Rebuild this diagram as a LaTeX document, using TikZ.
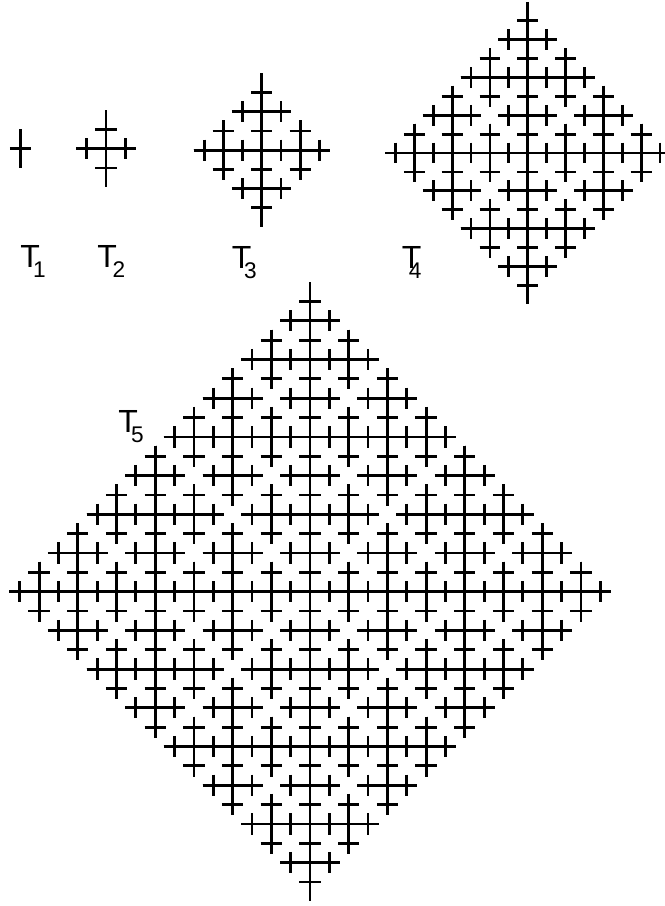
\documentclass[tikz,border=0pt]{standalone}
\usepackage{fontspec}
\setmainfont{Liberation Sans}
\newcommand\crossrec[3]{%
  \pgfmathsetmacro\crarm{2^(#3-1)-0.45}%
  \draw[fractal] (#1-\crarm,#2) -- (#1+\crarm,#2) (#1,#2-\crarm) -- (#1,#2+\crarm);%
  \ifnum#3>1\relax
    \pgfmathtruncatemacro\crhalf{2^(#3-2)}%
    \pgfmathtruncatemacro\crlev{#3-1}%
    \foreach \dx/\dy in {1/0,-1/0,0/1,0/-1}{%
      \pgfmathtruncatemacro\crnx{#1+\dx*\crhalf}%
      \pgfmathtruncatemacro\crny{#2+\dy*\crhalf}%
      \edef\crtmp{\noexpand\crossrec{\crnx}{\crny}{\crlev}}\crtmp
    }%
  \fi
}
\newcommand\treeT[4]{% cx, cy (px), unit (px), level
  \begin{scope}[shift={(#1,#2)},x=#3*0.75pt,y=-#3*0.75pt]
    \crossrec{0}{0}{#4}
    \pgfmathsetmacro\crtop{2^(#4-1)}
    \draw[fractal] (0,-\crtop) -- (0,\crtop);
  \end{scope}
}
\newcommand\tlabel[2]{{\fontsize{24}{24}\selectfont T\kern#2\raisebox{-7.5pt}{\fontsize{17}{17}\selectfont #1}}}
\begin{document}
\begin{tikzpicture}[x=0.75pt,y=-0.75pt,
  fractal/.style={line width=2.1pt,black},
  lab/.style={inner sep=0pt,anchor=north west}]
\useasboundingbox (0,0) rectangle (664,906);
\treeT{20.7}{148.8}{19.5}{1}
\treeT{106}{148.8}{19.25}{2}
\treeT{261.7}{150.2}{19.2}{3}
\treeT{527.7}{153}{18.9}{4}
\treeT{310}{591.7}{19.35}{5}
\node[lab] (l1) at (20,245) {\tlabel{1}{-5pt}};
\node[lab] (l2) at (97,245) {\tlabel{2}{-3.2pt}};
\node[lab] (l3) at (231.7,246) {\tlabel{3}{-5.5pt}};
\node[lab] (l4) at (401.7,246.5) {\tlabel{4}{-9.5pt}};
\node[lab] (l5) at (118,410) {\tlabel{5}{-5pt}};
\end{tikzpicture}
\end{document}
